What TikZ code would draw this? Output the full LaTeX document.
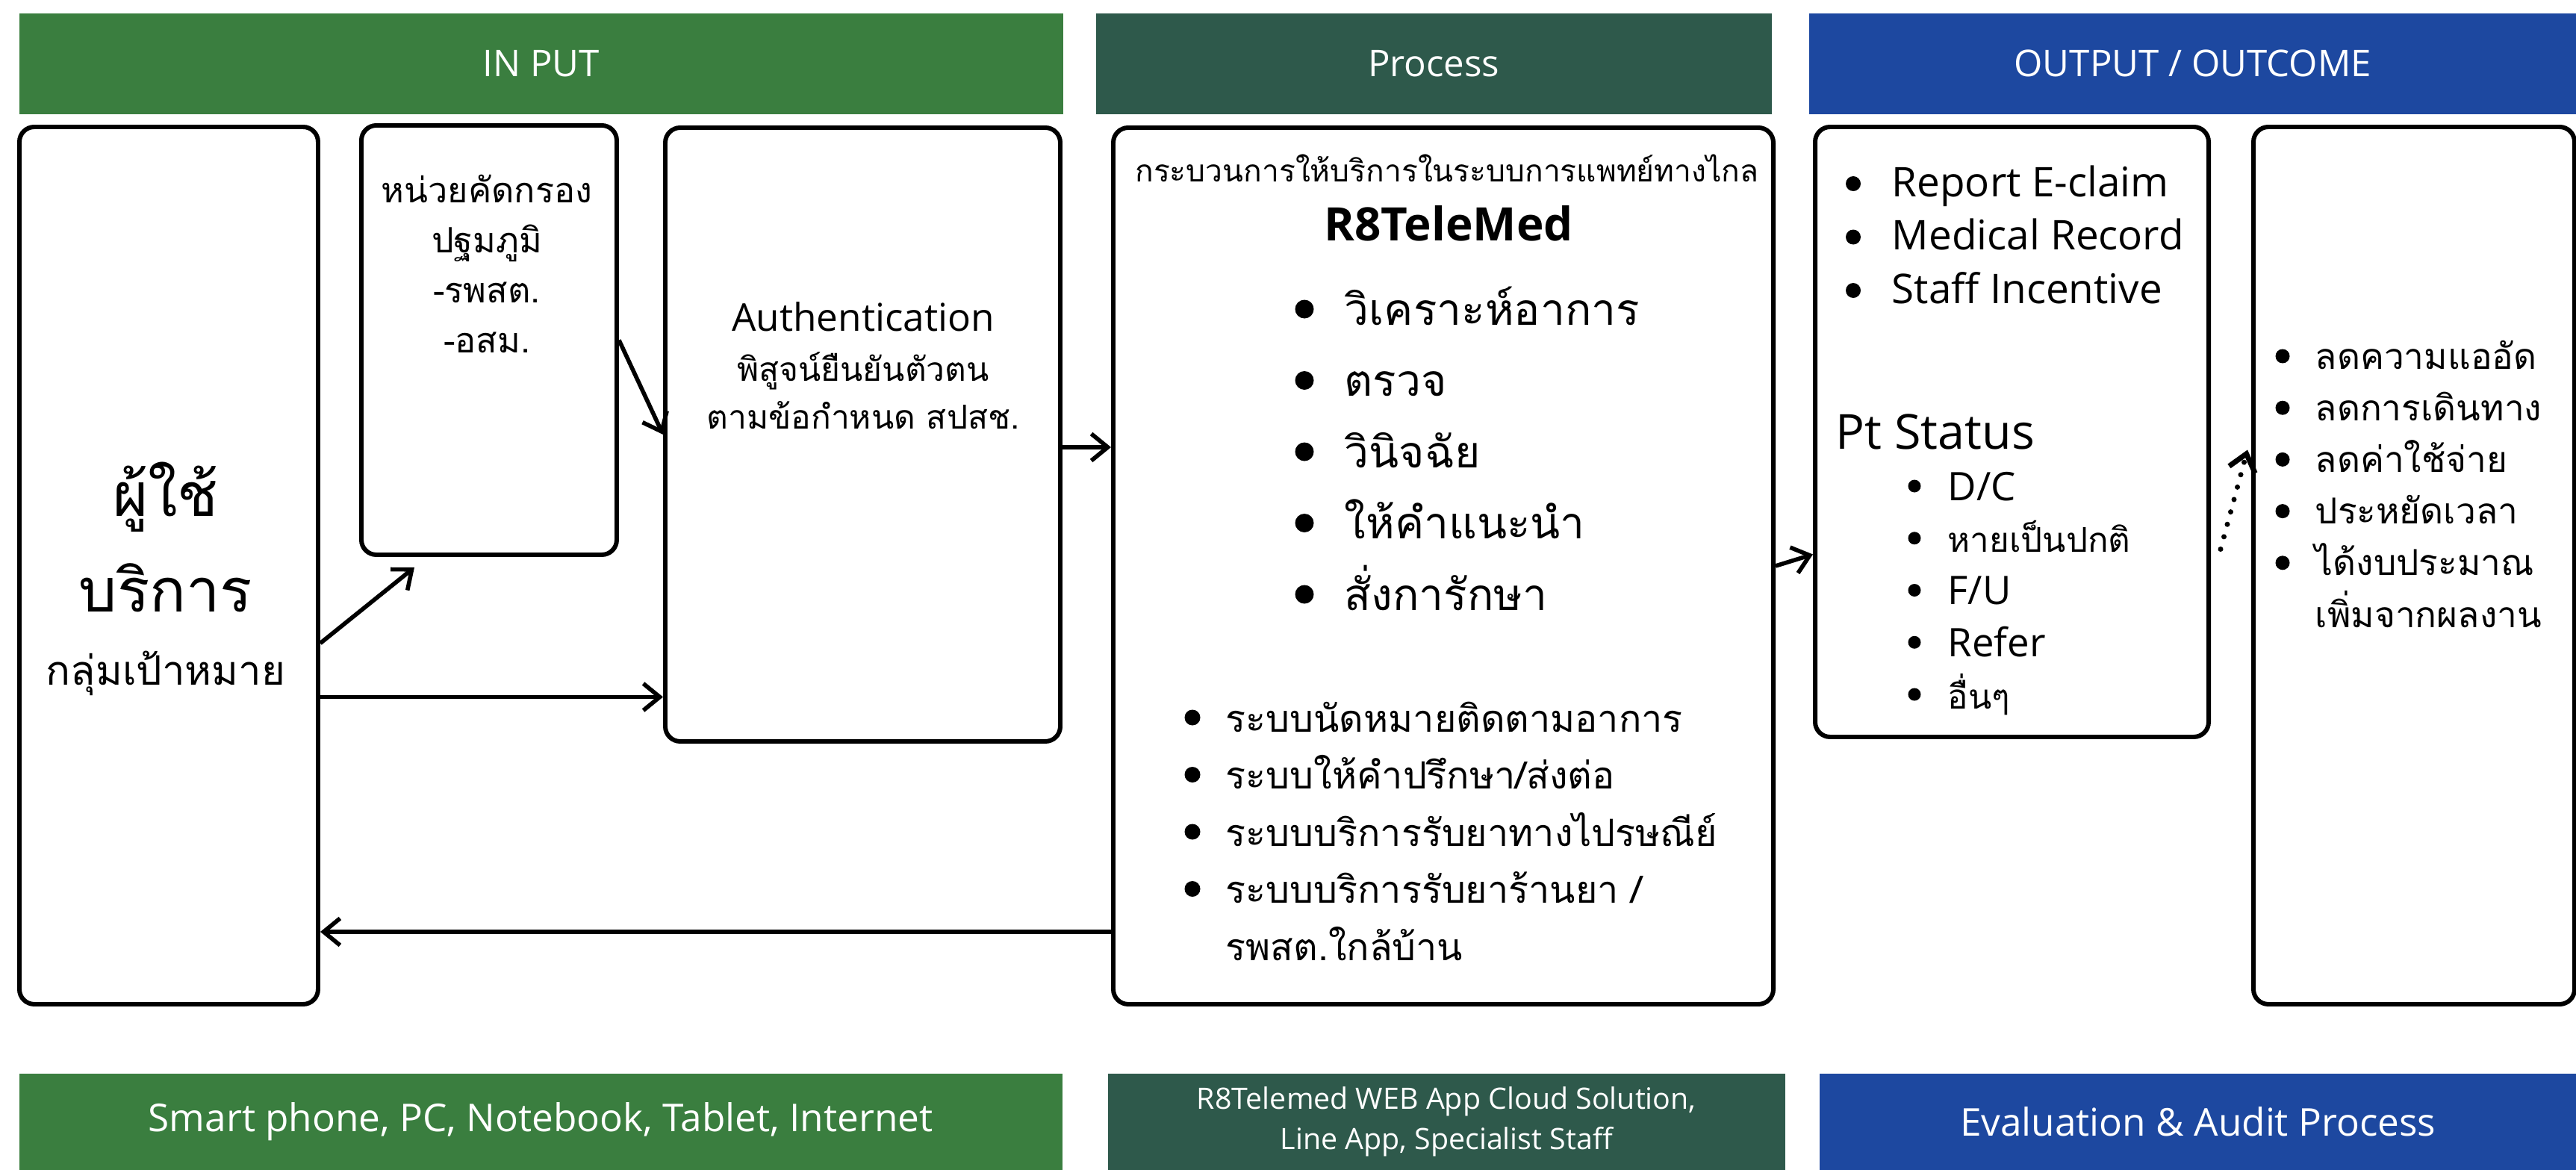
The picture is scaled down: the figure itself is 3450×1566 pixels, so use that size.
\documentclass[tikz,border=0pt]{standalone}
\usepackage{fontspec}
\setmainfont{Open Sans}
\newfontfamily\thaifont[Script=Thai]{Loma}
\usetikzlibrary{arrows.meta}

\definecolor{ingreen}{RGB}{58,126,63}
\definecolor{procgreen}{RGB}{46,89,75}
\definecolor{outblue}{RGB}{29,72,160}

\newcommand{\fsz}[1]{\fontsize{#1}{#1}\selectfont}

\begin{document}
\begin{tikzpicture}[x=0.1mm, y=-0.1mm,
    bar/.style={fill=#1, text=white, inner sep=0, anchor=north west, font=\fsz{14.6}},
    box/.style={draw, line width=1.7pt, rounded corners=2mm, inner sep=0, anchor=north west},
    txt/.style={inner sep=0, anchor=base},
    item/.style={inner sep=0, anchor=base west},
    arr/.style={line width=1.6pt, -{Straight Barb[length=2.2mm, width=3.6mm]}}]

\useasboundingbox (0,0) rectangle (3450,1566);

% column heads
\node[bar=ingreen, minimum width=139.8mm, minimum height=13.5mm, font=\fsz{14}] (inbar) at (25,17) {IN PUT};
\node[bar=procgreen, minimum width=90.5mm, minimum height=13.5mm, font=\fsz{14}] (procbar) at (1467,17) {Process};
\node[bar=outblue, minimum width=102.8mm, minimum height=13.5mm, font=\fsz{14}] (outbar) at (2422,17) {OUTPUT / OUTCOME};

% footers
\node[bar=ingreen, minimum width=139.7mm, minimum height=12.9mm] (devbar) at (25,1437) {Smart phone, PC, Notebook, Tablet, Internet};
\node[bar=procgreen, minimum width=90.7mm, minimum height=12.9mm, align=center,
      font=\fontsize{11.2}{15.6}\selectfont] (appbar) at (1483,1437) {R8Telemed WEB App Cloud Solution,\\Line App, Specialist Staff};
\node[bar=outblue, minimum width=101.4mm, minimum height=12.9mm] (evalbar) at (2436,1437) {Evaluation \& Audit Process};

% boxes
\node[box, minimum width=40mm, minimum height=117.5mm] (user) at (23,167) {};
\node[box, minimum width=34.2mm, minimum height=57.5mm] (screen) at (481,165) {};
\node[box, minimum width=52.9mm, minimum height=82.2mm] (auth) at (888,168) {};
\node[box, minimum width=88.4mm, minimum height=117.4mm] (proc) at (1488,168) {};
\node[box, minimum width=52.7mm, minimum height=81.7mm] (outp) at (2428,167) {};
\node[box, minimum width=43mm, minimum height=117.5mm] (outc) at (3015,167) {};

% user box
\node[txt, font=\thaifont\fsz{23}] (u1) at (222,691) {ผู้ใช้};
\node[txt, font=\thaifont\fsz{23}] (u2) at (222,819) {บริการ};
\node[txt, font=\thaifont\fsz{15.5}] (u3) at (222,917) {กลุ่มเป้าหมาย};

% screening unit
\foreach \t [count=\i] in {หน่วยคัดกรอง, ปฐมภูมิ, -รพสต., -อสม.}
    \node[txt, font=\thaifont\fsz{13.3}] (s\i) at (652,{271+67*(\i-1)}) {\t};

% authentication
\node[txt, font=\fsz{14.6}] (a1) at (1156,443) {Authentication};
\node[txt, font=\thaifont\fsz{12.6}] (a2) at (1156,510) {พิสูจน์ยืนยันตัวตน};
\node[txt, font=\thaifont\fsz{12.6}] (a3) at (1156,574) {ตามข้อกำหนด สปสช.};

% process box
\node[txt, font=\thaifont\fsz{11.6}] (ptitle) at (1938,243) {กระบวนการให้บริการในระบบการแพทย์ทางไกล};
\node[txt, font=\bfseries\fsz{17.6}] (pname) at (1940,322) {R8TeleMed};
\foreach \t [count=\i] in {วิเคราะห์อาการ, ตรวจ, วินิจฉัย, ให้คำแนะนำ, สั่งการักษา} {
    \fill (1747,{435+95.5*(\i-1)-21}) circle (1.25mm);
    \node[item, font=\thaifont\fsz{16.7}] (pbig\i) at (1800,{435+95.5*(\i-1)}) {\t};
}
\foreach \t [count=\i] in {ระบบนัดหมายติดตามอาการ, ระบบให้คำปรึกษา/ส่งต่อ, ระบบบริการรับยาทางไปรษณีย์, ระบบบริการรับยาร้านยา /} {
    \fill (1597,{980+76.5*(\i-1)-19}) circle (1.05mm);
    \node[item, font=\thaifont\fsz{14.3}] (psys\i) at (1641,{980+76.5*(\i-1)}) {\t};
}
\node[item, font=\thaifont\fsz{14.3}] (psys5) at (1641,1286) {รพสต.ใกล้บ้าน};

% output
\foreach \t [count=\i] in {Report E-claim, Medical Record, Staff Incentive} {
    \fill (2482,{263+71.5*(\i-1)-17}) circle (1mm);
    \node[item, font=\fsz{15.6}] (o\i) at (2533,{263+71.5*(\i-1)}) {\t};
}
\node[item, font=\fsz{18.4}] (pt) at (2458,601) {Pt Status};
\foreach \t [count=\i] in {D/C, {\thaifont\fsz{13}หายเป็นปกติ}, F/U, Refer, {\thaifont\fsz{13}อื่นๆ}} {
    \fill (2564,{670+69.75*(\i-1)-19}) circle (0.85mm);
    \node[item, font=\fsz{15}] (pts\i) at (2608,{670+69.75*(\i-1)}) {\t};
}

% outcome
\foreach \t [count=\i] in {ลดความแออัด, ลดการเดินทาง, ลดค่าใช้จ่าย, ประหยัดเวลา, ได้งบประมาณ} {
    \fill (3057,{494+69.2*(\i-1)-17}) circle (0.95mm);
    \node[item, font=\thaifont\fsz{13.6}] (oc\i) at (3100,{494+69.2*(\i-1)}) {\t};
}
\node[item, font=\thaifont\fsz{13.6}] (oc6) at (3100,840) {เพิ่มจากผลงาน};

% connectors
\coordinate (uin) at ([shift={(0,176)}]user.east);
\coordinate (aout) at ([shift={(0,17)}]auth.east);
\coordinate (pback) at ([shift={(0,490)}]proc.west);

\draw[arr] ([shift={(0,104)}]user.east) -- ([shift={(-100,14)}]screen.south);
\draw[arr] (screen.east) -- (auth.west);
\draw[arr] (uin) -- (uin -| auth.west);
\draw[arr] (aout) -- (aout -| proc.west);
\draw[arr] (pback) -- (pback -| user.east);
\draw[arr] (proc.east) -- ([shift={(0,164)}]outp.west);
\draw[arr, line width=2pt, line cap=round, dash pattern=on 0pt off 4.9pt]
    ([shift={(13,157)}]outp.east) -- ([shift={(-5,-155)}]outc.west);

\end{tikzpicture}
\end{document}
